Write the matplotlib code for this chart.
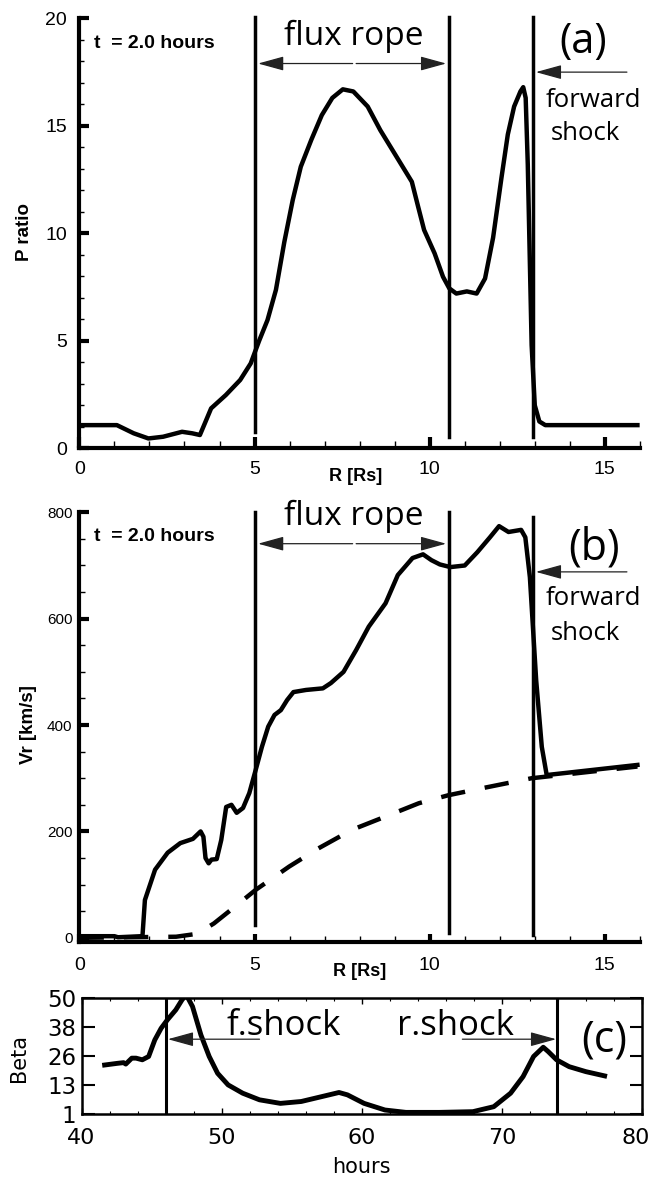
import matplotlib.pyplot as plt
import matplotlib.transforms as mtransforms
from matplotlib.ticker import MultipleLocator

plt.rcParams['font.family'] = ['Liberation Sans', 'DejaVu Sans']

# panel (a): pressure ratio vs R
r_a = [0, 1.07, 1.55, 1.97, 2.39, 2.93, 3.22, 3.44, 3.58, 3.76, 4.18, 4.59, 4.89,
       5.13, 5.37, 5.61, 5.85, 6.09, 6.32, 6.62, 6.92, 7.22, 7.52, 7.82, 8.23, 8.59,
       9.19, 9.49, 9.67, 9.84, 10.14, 10.38, 10.56, 10.76, 11.06, 11.34, 11.58, 11.81,
       12.05, 12.23, 12.41, 12.59, 12.67, 12.74, 12.8, 12.86, 12.91, 13.0, 13.13, 13.3, 15.93]
p_a = [1.08, 1.08, 0.70, 0.46, 0.54, 0.77, 0.70, 0.62, 1.16, 1.86, 2.48, 3.18, 3.95,
       5.0, 5.97, 7.37, 9.6, 11.55, 13.1, 14.35, 15.5, 16.3, 16.7, 16.6, 15.9, 14.8,
       13.2, 12.4, 11.24, 10.16, 9.07, 7.98, 7.44, 7.2, 7.3, 7.2, 7.9, 9.8,
       12.6, 14.6, 15.9, 16.6, 16.8, 16.3, 13.2, 8.6, 4.8, 2.0, 1.25, 1.08, 1.08]

# panel (b): radial velocity, solid = t=2h, dashed = background
r_b = [0, 1.0, 1.1, 1.78, 1.80, 1.87, 2.16, 2.52, 2.88, 3.24, 3.46, 3.54, 3.60, 3.69,
       3.77, 3.92, 4.05, 4.19, 4.34, 4.49, 4.67, 4.85, 5.03, 5.21, 5.39, 5.57, 5.75,
       5.93, 6.11, 6.47, 6.95, 7.18, 7.54, 7.90, 8.26, 8.74, 9.09, 9.51, 9.81, 10.05,
       10.29, 10.59, 11.0, 11.36, 11.72, 11.98, 12.25, 12.61, 12.73, 12.86, 13.04,
       13.2, 13.34, 15.93]
v_b = [3, 3, 1, 3, 3, 71, 128, 160, 178, 186, 200, 190, 150, 140,
       147, 148, 184, 246, 250, 235, 244, 272, 315, 359, 397, 419, 428,
       447, 462, 466, 469, 479, 500, 541, 585, 629, 682, 714, 721, 710,
       702, 697, 700, 725, 753, 774, 763, 767, 753, 678, 484,
       359, 306, 325]
r_bg = [0, 2.76, 3.36, 3.84, 4.43, 5.03, 5.99, 6.82, 7.78, 8.74, 9.69, 10.53,
        11.48, 12.91, 15.93]
v_bg = [0, 2, 7.5, 27, 58, 90, 134, 168, 203, 228, 253, 268, 281, 300, 322]

# panel (c): plasma beta vs hours
t_c = [41.64, 42.54, 42.99, 43.15, 43.58, 43.88, 44.33, 44.78, 45.22, 45.67, 46.12,
       46.72, 47.16, 47.46, 47.91, 48.51, 49.1, 49.7, 50.45, 51.49, 52.69, 54.18,
       55.67, 57.16, 58.36, 58.96, 60.15, 61.64, 63.13, 65.52, 67.91, 69.4, 70.6,
       71.49, 72.24, 72.93, 73.28, 73.88, 74.78, 75.97, 77.31]
beta_c = [21.8, 22.5, 22.8, 22.2, 24.7, 24.7, 24.0, 25.4, 32.4, 37.3, 40.9,
          45.1, 49.3, 51.5, 46.5, 34.5, 25.4, 18.3, 13.4, 9.9, 7.1, 5.6,
          6.4, 8.5, 10.2, 9.2, 5.6, 2.8, 1.8, 1.8, 2.1, 4.2, 9.9,
          16.9, 25.4, 29.3, 27.5, 24.0, 21.1, 19.0, 17.2]

lines_r = [5.02, 10.54, 12.95]
lines_t = [46.03, 73.94]
beta_ticks = [1, 13.25, 25.5, 37.75, 50]
beta_labels = ['1', '13', '26', '38', '50']
hour_ticks = [40, 50, 60, 70, 80]

note_font = ['Open Sans', 'DejaVu Sans']
arrow_style = dict(arrowstyle='-|>,head_length=0.8,head_width=0.22', lw=0.9,
                   color='#222222', shrinkA=0, shrinkB=0, mutation_scale=20)


def arrow(ax, x0, x1, y):
    ax.annotate('', xy=(x1, y), xytext=(x0, y), arrowprops=arrow_style,
                annotation_clip=False)


def style_r_axis(ax, ymajor, yminor, xlen, ylen, ylab_size, ypad, xpad):
    for s in ['top', 'right']:
        ax.spines[s].set_visible(False)
    for s in ['left', 'bottom']:
        ax.spines[s].set_linewidth(3)
    ax.set_xlim(0, 16)
    ax.xaxis.set_major_locator(MultipleLocator(5))
    ax.xaxis.set_minor_locator(MultipleLocator(1))
    ax.yaxis.set_major_locator(MultipleLocator(ymajor))
    ax.yaxis.set_minor_locator(MultipleLocator(yminor))
    ax.tick_params(axis='x', which='major', direction='in', length=xlen[0], width=3,
                   labelsize=14, pad=xpad)
    ax.tick_params(axis='x', which='minor', direction='in', length=xlen[1], width=1)
    ax.tick_params(axis='y', which='major', direction='in', length=ylen[0], width=3,
                   labelsize=ylab_size, pad=ypad)
    ax.tick_params(axis='y', which='minor', direction='in', length=ylen[1], width=1)
    ax.set_facecolor('none')


fig = plt.figure(figsize=(6.53, 11.78), dpi=100)

# ---- (a)
axa = fig.add_axes([0.1216, 0.6194, 0.8583, 0.365])
axa.plot(r_a, p_a, color='black', lw=3.2, solid_joinstyle='round')
axa.set_ylim(0, 20)
style_r_axis(axa, 5, 1, (8, 5), (7, 3.5), 14, 9, 9)
axa.plot([lines_r[0]] * 2, [0.77, 20.08], color='black', lw=2.5, clip_on=False)
axa.plot([lines_r[1]] * 2, [0.54, 20.08], color='black', lw=2.5, clip_on=False)
axa.plot([lines_r[2]] * 2, [0.54, 20.08], color='black', lw=2.5, clip_on=False)
axa.text(0.42, 18.84, 't  = 2.0 hours', fontsize=14, fontweight='bold', va='center')
axa.text(7.82, 18.75, 'flux rope', fontsize=24, family=note_font, ha='center', va='baseline')
arrow(axa, 7.80, 5.10, 17.9)
arrow(axa, 7.90, 10.47, 17.9)
axa.text(14.38, 18.9, '(a)', fontsize=30, family=note_font, ha='center', va='center')
arrow(axa, 15.63, 13.03, 17.5)
axa.text(14.68, 15.9, 'forward', fontsize=18.5, family=note_font, ha='center', va='baseline')
axa.text(14.44, 14.34, 'shock', fontsize=18.5, family=note_font, ha='center', va='baseline')
axa.text(7.88, -0.066, 'R [Rs]', transform=axa.get_xaxis_transform(), fontsize=13,
         fontweight='bold', ha='center', va='center')
fig.text(0.038, 0.803, 'P ratio', rotation=90, fontsize=13.5, fontweight='bold',
         ha='center', va='center')

# ---- (b)
axb = fig.add_axes([0.1216, 0.2003, 0.8583, 0.3648])
axb.plot(r_b, v_b, color='black', lw=3.2, solid_joinstyle='round')
axb.plot(r_bg, v_bg, color='black', lw=3.2, linestyle=(0, (5.5, 4.5)))
axb.set_ylim(-8, 800)
style_r_axis(axb, 200, 50, (6, 4), (7, 4.5), 11, 5, 11)
axb.plot([lines_r[0]] * 2, [24, 800], color='black', lw=2.5, clip_on=False)
axb.plot([lines_r[1]] * 2, [9, 800], color='black', lw=2.5, clip_on=False)
axb.plot([lines_r[2]] * 2, [5.6, 791], color='black', lw=2.5, clip_on=False)
axb.text(0.42, 753.6, 't  = 2.0 hours', fontsize=14, fontweight='bold', va='center')
axb.text(7.82, 775.6, 'flux rope', fontsize=24, family=note_font, ha='center', va='baseline')
arrow(axb, 7.80, 5.10, 741)
arrow(axb, 7.90, 10.47, 741)
axb.text(14.68, 731.8, '(b)', fontsize=31, family=note_font, ha='center', va='center')
arrow(axb, 15.63, 13.03, 688)
axb.text(14.68, 625, 'forward', fontsize=18.5, family=note_font, ha='center', va='baseline')
axb.text(14.44, 559.6, 'shock', fontsize=18.5, family=note_font, ha='center', va='baseline')
axb.text(8.0, -0.069, 'R [Rs]', transform=axb.get_xaxis_transform(), fontsize=13,
         fontweight='bold', ha='center', va='center')
fig.text(0.044, 0.3846, 'Vr [km/s]', rotation=90, fontsize=13.5, fontweight='bold',
         ha='center', va='center')

# ---- (c)
axc = fig.add_axes([0.125, 0.0541, 0.8587, 0.0985])
axc.plot(t_c, beta_c, color='black', lw=3.5, solid_joinstyle='round')
axc.set_xlim(40, 80)
axc.set_ylim(1, 50)
for s in axc.spines.values():
    s.set_linewidth(1.8)
for x in lines_t:
    axc.axvline(x, color='black', lw=2.2)
axc.set_yticks(beta_ticks, beta_labels, fontfamily='DejaVu Sans')
axc.set_xticks(hour_ticks, [str(h) for h in hour_ticks], fontfamily='DejaVu Sans')
axc.xaxis.set_minor_locator(MultipleLocator(2))
axc.tick_params(axis='y', which='major', direction='in', left=True, right=True,
                length=9, width=1.5, labelsize=16.5, pad=4)
axc.tick_params(axis='x', which='major', direction='in', top=True, bottom=True,
                length=4, width=1, labelsize=16, pad=10)
axc.tick_params(axis='x', which='minor', direction='in', top=True, bottom=True,
                length=2, width=0.8)
# keep the last hour label inside the figure edge
last = axc.get_xticklabels()[-1]
last.set_transform(last.get_transform() +
                   mtransforms.ScaledTranslation(-5 / 72, 0, fig.dpi_scale_trans))
axc.text(54.39, 34.5, 'f.shock', fontsize=25, family=note_font, ha='center', va='baseline')
axc.text(66.7, 34.5, 'r.shock', fontsize=25, family=note_font, ha='center', va='baseline')
arrow(axc, 52.69, 46.15, 32.7)
arrow(axc, 67.16, 73.85, 32.7)
axc.text(77.3, 32.4, '(c)', fontsize=31, family=note_font, ha='center', va='center')
fig.text(0.029, 0.1016, 'Beta', rotation=90, fontsize=15, family='DejaVu Sans',
         ha='center', va='center')
fig.text(0.554, 0.0096, 'hours', fontsize=15, family='DejaVu Sans', ha='center',
         va='center')

fig.savefig('out.png', dpi=100)
